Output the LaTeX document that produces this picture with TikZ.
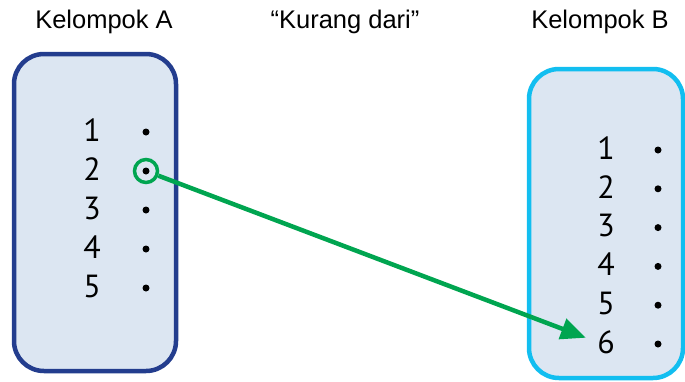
\documentclass[tikz,border=0pt]{standalone}
\usepackage{fontspec}
\setmainfont{Liberation Sans}
\newfontfamily\numfont{PT Sans}
\definecolor{boxA}{RGB}{35, 61, 142}
\definecolor{boxB}{RGB}{18, 190, 240}
\definecolor{boxfill}{RGB}{220, 230, 242}
\definecolor{linkgreen}{RGB}{0, 165, 80}
\usetikzlibrary{positioning, arrows.meta}

\begin{document}
\begin{tikzpicture}[x=1pt, y=-1pt,
    title/.style={font=\fontsize{25.5}{30}\selectfont},
    num/.style={font=\numfont\fontsize{32}{36}\selectfont, inner sep=0pt},
    pt/.style={circle, fill=black, inner sep=0pt, minimum size=7pt}]
        \useasboundingbox (0,0) rectangle (685,381);
        % titles
        \node[title] (tA) at (104,22) {Kelompok A};
        \node[title] (tR) at (345,22) {“Kurang dari”};
        \node[title] (tB) at (600,22) {Kelompok B};
        % boxes
        \draw[line width=4.5pt, color=boxA, fill=boxfill, rounded corners=30pt] (14,54) rectangle (176,371);
        \draw[line width=4.5pt, color=boxB, fill=boxfill, rounded corners=30pt] (529,69) rectangle (683,378);
        % group A
        \foreach \i in {1,...,5} {
          \node[num] (a\i) at (92,{130+(\i-1)*39}) {\i};
          \node[pt] (da\i) at (146,{132+(\i-1)*39}) {};
        }
        % group B
        \foreach \i in {1,...,6} {
          \node[num] (b\i) at (606,{148+(\i-1)*38.8}) {\i};
          \node[pt] (db\i) at (658,{150+(\i-1)*38.8}) {};
        }
        % relation arrow
        \node[circle, draw=linkgreen, line width=3.5pt, minimum size=23pt, inner sep=0pt] (ca2) at (da2) {};
        \draw[line width=4.5pt, color=linkgreen, -{Triangle[length=25pt, width=21pt]}, shorten >=12pt] (ca2) -- (b6.west);
      \end{tikzpicture}
\end{document}
